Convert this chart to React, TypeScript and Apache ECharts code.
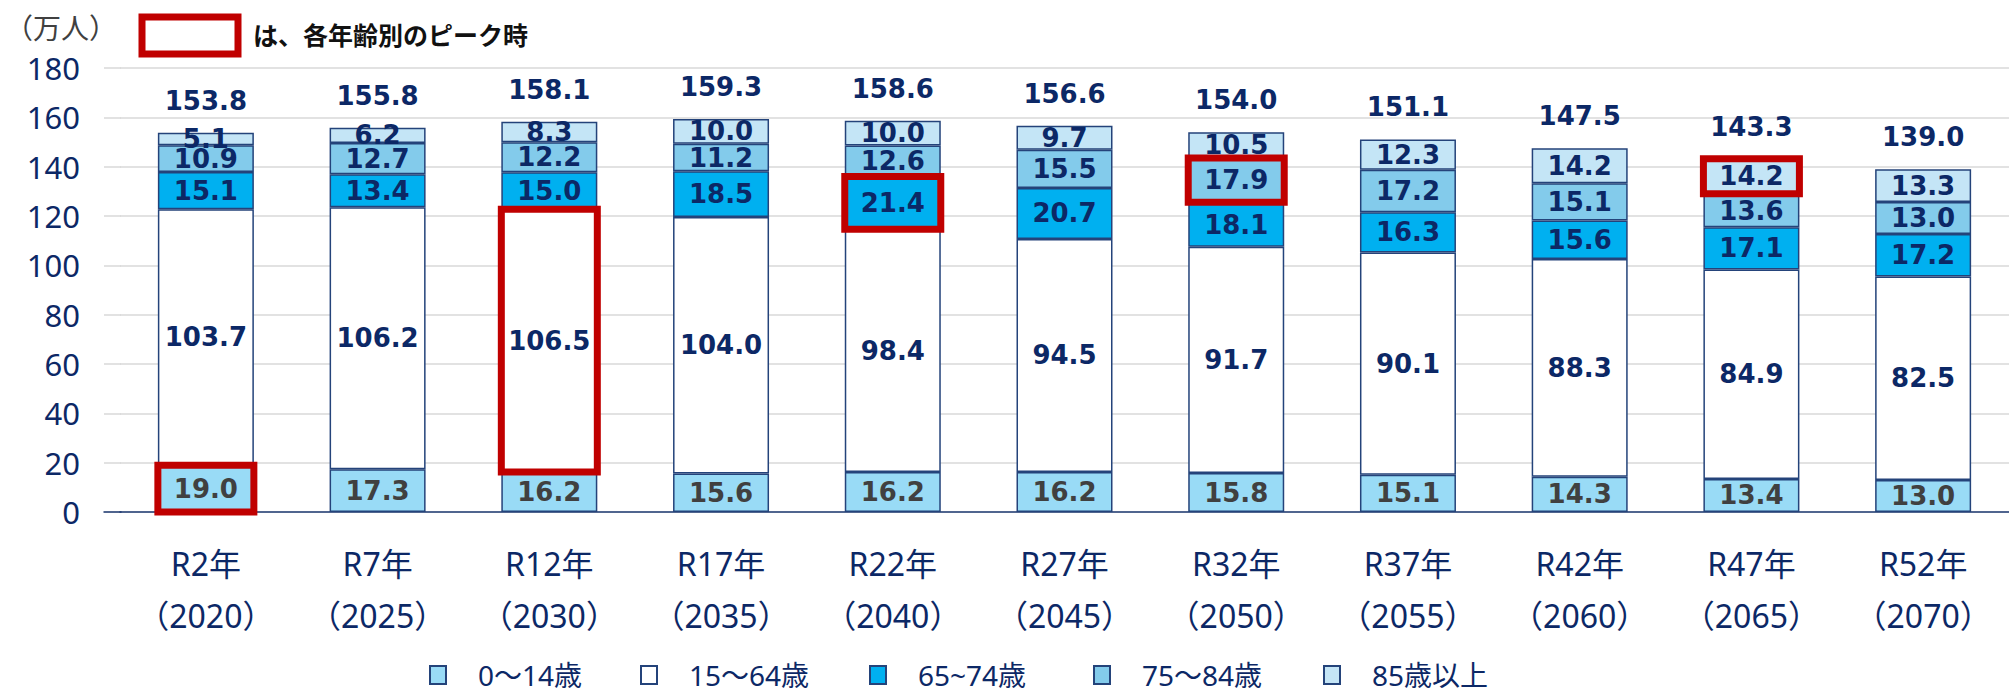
import React, { useEffect, useRef } from "react";
import * as echarts from "echarts";

const reiwa = ["R2年", "R7年", "R12年", "R17年", "R22年", "R27年", "R32年", "R37年", "R42年", "R47年", "R52年"];
const years = ["2020", "2025", "2030", "2035", "2040", "2045", "2050", "2055", "2060", "2065", "2070"];
const seriesNames = ["0～14歳", "15～64歳", "65~74歳", "75～84歳", "85歳以上"];
const age0_14 = [19.0, 17.3, 16.2, 15.6, 16.2, 16.2, 15.8, 15.1, 14.3, 13.4, 13.0];
const age15_64 = [103.7, 106.2, 106.5, 104.0, 98.4, 94.5, 91.7, 90.1, 88.3, 84.9, 82.5];
const age65_74 = [15.1, 13.4, 15.0, 18.5, 21.4, 20.7, 18.1, 16.3, 15.6, 17.1, 17.2];
const age75_84 = [10.9, 12.7, 12.2, 11.2, 12.6, 15.5, 17.9, 17.2, 15.1, 13.6, 13.0];
const age85plus = [5.1, 6.2, 8.3, 10.0, 10.0, 9.7, 10.5, 12.3, 14.2, 14.2, 13.3];
const totals = [153.8, 155.8, 158.1, 159.3, 158.6, 156.6, 154.0, 151.1, 147.5, 143.3, 139.0];
// peak per age group: [seriesIndex, categoryIndex]
const peaks = [[0, 0], [1, 2], [2, 4], [3, 6], [4, 9]];
const yTicks = [0, 20, 40, 60, 80, 100, 120, 140, 160, 180];

const NAVY = "#0C2866";
const colors = ["#99DBF6", "#FFFFFF", "#00B0F0", "#83CBEB", "#C4E5F6"];
const BAR_W = 96;
const SANS = "'Noto Sans', 'Noto Sans CJK JP', sans-serif";

export default function App() {
  const ref = useRef<HTMLDivElement>(null);
  useEffect(() => {
    if (!ref.current) return;
    const chart = echarts.init(ref.current, null, { renderer: "svg" });
    const allSeries = [age0_14, age15_64, age65_74, age75_84, age85plus];
    const categories = reiwa.map((r, i) => `${r}\n（${years[i]}）`);

    const peakData = peaks.map(([s, c]) => {
      let bottom = 0;
      for (let k = 0; k < s; k++) bottom += allSeries[k][c];
      return [c, bottom, bottom + allSeries[s][c]];
    });

    const barSeries = allSeries.map((data, i) => ({
      name: seriesNames[i],
      type: "bar",
      stack: "total",
      barWidth: BAR_W,
      xAxisIndex: 0,
      yAxisIndex: 0,
      data,
      itemStyle: { color: colors[i], borderColor: "#24437A", borderWidth: 1.5 },
      label: {
        show: true,
        position: "inside",
        formatter: (p: any) => Number(p.value).toFixed(1),
        color: i === 0 ? "#404040" : NAVY,
        fontSize: 26,
        fontWeight: "bold",
        fontFamily: "'DejaVu Sans', 'Noto Sans CJK JP', sans-serif",
      },
    }));

    const legendLefts = [429, 640, 869, 1093, 1323];

    chart.setOption({
      animation: false,
      backgroundColor: "#FFFFFF",
      grid: [
        { left: 120, top: 68, width: 1907, height: 444, containLabel: false },
        { left: 104, top: 68, width: 17, height: 444, containLabel: false },
      ],
      legend: seriesNames.map((n, i) => ({
        data: [n],
        left: legendLefts[i],
        top: 661,
        padding: 0,
        itemWidth: 16,
        itemHeight: 18,
        icon: "rect",
        textStyle: {
          color: NAVY,
          fontSize: 28,
          lineHeight: 28,
          fontFamily: SANS,
          padding: [0, 0, 0, 27],
        },
      })),
      xAxis: [
        {
          type: "category",
          gridIndex: 0,
          data: categories,
          axisLine: { show: true, lineStyle: { color: "#1F3B73", width: 1.5 } },
          axisTick: { show: false },
          axisLabel: {
            interval: 0,
            color: NAVY,
            fontSize: 32,
            lineHeight: 52,
            margin: 25,
            fontFamily: SANS,
          },
        },
        {
          type: "value",
          gridIndex: 1,
          min: 0,
          max: 1,
          axisLine: { show: true, onZero: false, lineStyle: { color: "#1F3B73", width: 1.5 } },
          axisTick: { show: false },
          axisLabel: { show: false },
          splitLine: { show: false },
        },
      ],
      yAxis: [
        {
          type: "value",
          gridIndex: 0,
          min: yTicks[0],
          max: yTicks[yTicks.length - 1],
          interval: 20,
          axisLine: { show: false },
          axisTick: { show: false },
          splitLine: { lineStyle: { color: "#D9D9D9", width: 1.5 } },
          axisLabel: {
            color: NAVY,
            fontSize: 31,
            margin: 40,
            fontFamily: SANS,
          },
        },
        {
          type: "value",
          gridIndex: 1,
          min: yTicks[0],
          max: yTicks[yTicks.length - 1],
          interval: 20,
          axisLine: { show: false },
          axisTick: { show: false },
          axisLabel: { show: false },
          splitLine: { lineStyle: { color: "#D9D9D9", width: 1.5 } },
        },
      ],
      graphic: [
        {
          type: "text",
          left: 5,
          top: 13,
          style: {
            text: "（万人）",
            fill: "#404040",
            fontSize: 28,
            fontFamily: "'Noto Sans CJK JP', sans-serif",
          },
        },
        {
          type: "rect",
          shape: { x: 142, y: 17, width: 96, height: 37 },
          style: { fill: "#FFFFFF", stroke: "#C00000", lineWidth: 7 },
        },
        {
          type: "text",
          left: 253,
          top: 21,
          style: {
            text: "は、各年齢別のピーク時",
            fill: "#111111",
            fontSize: 25,
            fontWeight: "bold",
            fontFamily: "'Noto Sans CJK JP', sans-serif",
          },
        },
      ],
      series: [
        ...barSeries,
        {
          name: "合計",
          type: "scatter",
          symbolSize: 0,
          data: totals,
          z: 5,
          itemStyle: { opacity: 1 },
          label: {
            show: true,
            position: "top",
            distance: 19,
            formatter: (p: any) => Number(p.value).toFixed(1),
            color: NAVY,
            fontSize: 26,
            fontWeight: "bold",
            fontFamily: "'DejaVu Sans', sans-serif",
          },
        },
        {
          type: "custom",
          z: 10,
          data: peakData,
          encode: { x: 0, y: [1, 2] },
          renderItem: (params: any, api: any) => {
            const c = api.value(0);
            const p0 = api.coord([c, api.value(1)]);
            const p1 = api.coord([c, api.value(2)]);
            return {
              type: "rect",
              shape: { x: p0[0] - BAR_W / 2, y: p1[1], width: BAR_W, height: p0[1] - p1[1] },
              style: { fill: "none", stroke: "#C00000", lineWidth: 7 },
            };
          },
        },
      ],
    });
    return () => chart.dispose();
  }, []);
  return (
    <div
      ref={ref}
      style={{ position: "absolute", left: 0, top: 0, width: 2009, height: 694, background: "#fff" }}
    />
  );
}
